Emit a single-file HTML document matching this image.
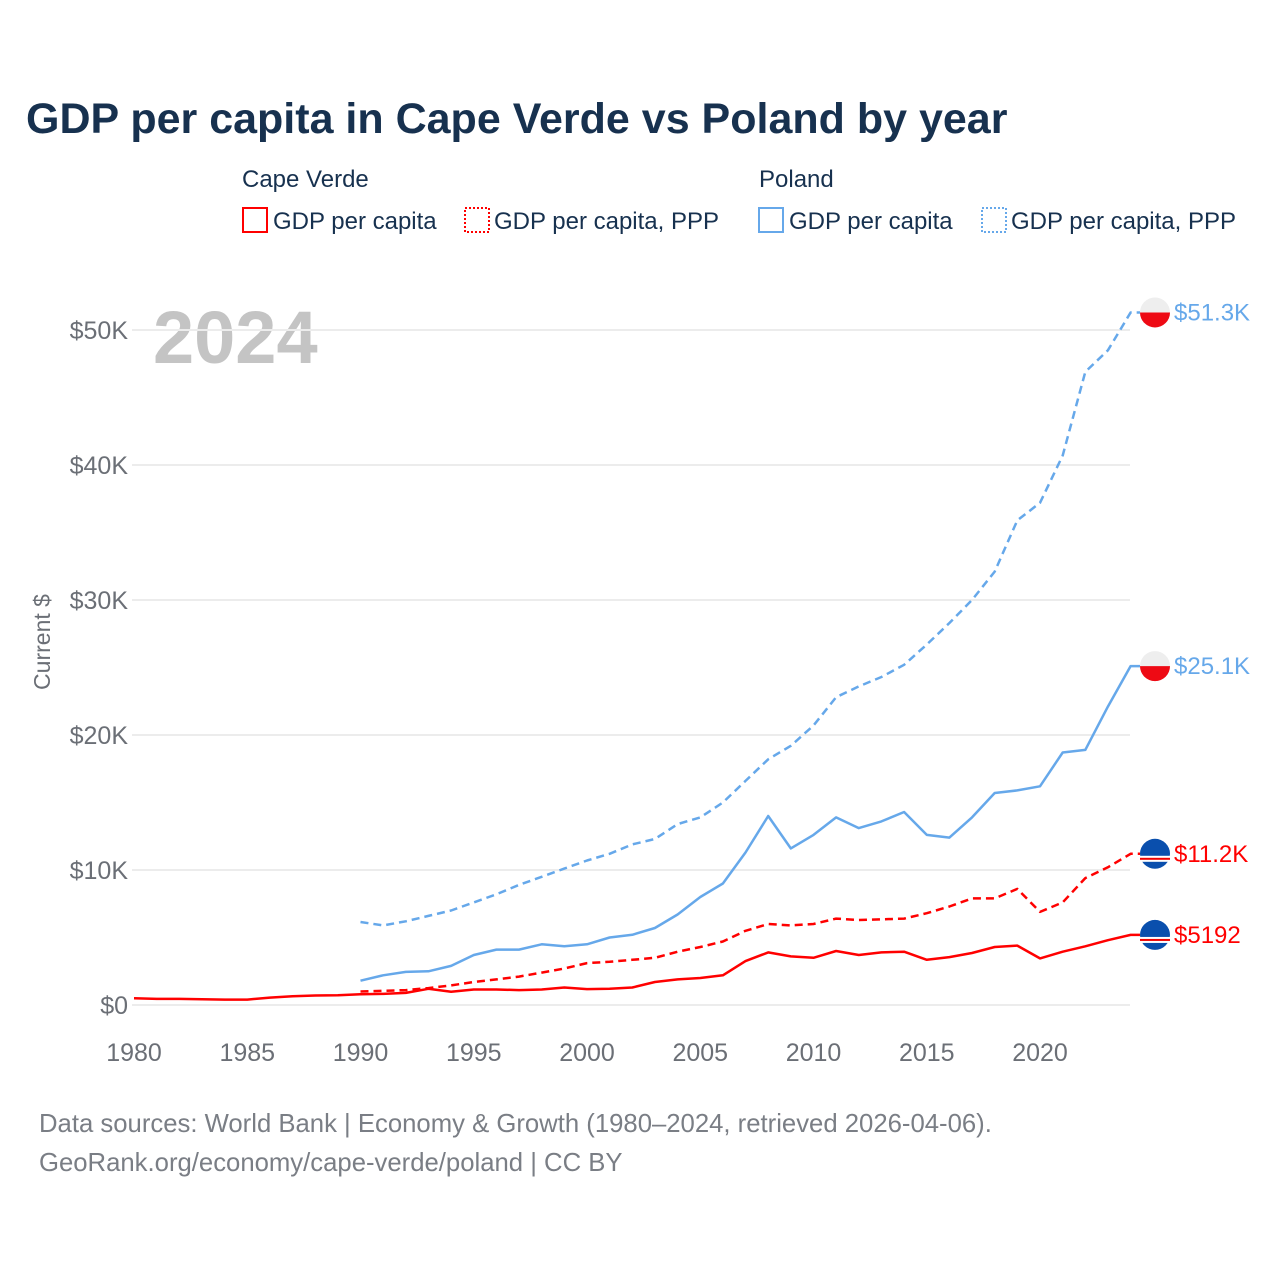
<!DOCTYPE html>
<html><head><meta charset="utf-8"><style>
body{margin:0;background:#fff;width:1280px;height:1280px;overflow:hidden;font-family:"Liberation Sans",sans-serif}
svg{position:absolute;left:0;top:0}
</style></head><body>
<svg id="chart" width="1280" height="1280" xmlns="http://www.w3.org/2000/svg">
<text x="26" y="133" font-size="43" font-weight="bold" fill="#17314f">GDP per capita in Cape Verde vs Poland by year</text>
<g font-size="24" fill="#17314f">
<text x="242" y="187">Cape Verde</text>
<rect x="243" y="208" width="24" height="24" fill="none" stroke="#ff0000" stroke-width="2"/>
<text x="273" y="229">GDP per capita</text>
<rect x="465" y="208" width="24" height="24" fill="none" stroke="#ff0000" stroke-width="2" stroke-dasharray="2,2"/>
<text x="494" y="229">GDP per capita, PPP</text>
<text x="759" y="187">Poland</text>
<rect x="759" y="208" width="24" height="24" fill="none" stroke="#66a8ea" stroke-width="2"/>
<text x="789" y="229">GDP per capita</text>
<rect x="982" y="208" width="24" height="24" fill="none" stroke="#66a8ea" stroke-width="2" stroke-dasharray="2,2"/>
<text x="1011" y="229">GDP per capita, PPP</text>
</g>
<text x="153" y="363" font-size="74" font-weight="bold" fill="#c4c4c4">2024</text>
<text transform="translate(50,642) rotate(-90)" text-anchor="middle" font-size="23" fill="#6b6f76">Current $</text>
<g id="grid"></g><g id="series"></g><g id="ends"></g>
<text x="39" y="1132" font-size="25.7" fill="#7a7e85">Data sources: World Bank | Economy &amp; Growth (1980–2024, retrieved 2026-04-06).</text>
<text x="39" y="1171" font-size="25.7" fill="#7a7e85">GeoRank.org/economy/cape-verde/poland | CC BY</text>
</svg>
<script>
const yTicks=[0,10,20,30,40,50];
const yTickLabels=["$0","$10K","$20K","$30K","$40K","$50K"];
const xTicks=[1980,1985,1990,1995,2000,2005,2010,2015,2020];
const cvYears=[1980,1981,1982,1983,1984,1985,1986,1987,1988,1989,1990,1991,1992,1993,1994,1995,1996,1997,1998,1999,2000,2001,2002,2003,2004,2005,2006,2007,2008,2009,2010,2011,2012,2013,2014,2015,2016,2017,2018,2019,2020,2021,2022,2023,2024];
const cvGdp=[0.5,0.45,0.45,0.43,0.4,0.4,0.55,0.65,0.7,0.72,0.8,0.82,0.9,1.2,0.98,1.15,1.15,1.1,1.15,1.3,1.18,1.2,1.3,1.7,1.9,2.0,2.2,3.25,3.9,3.6,3.5,4.0,3.7,3.9,3.95,3.35,3.55,3.85,4.3,4.4,3.45,3.95,4.35,4.8,5.19];
const years90=[1990,1991,1992,1993,1994,1995,1996,1997,1998,1999,2000,2001,2002,2003,2004,2005,2006,2007,2008,2009,2010,2011,2012,2013,2014,2015,2016,2017,2018,2019,2020,2021,2022,2023,2024];
const cvPpp=[1.0,1.05,1.1,1.25,1.45,1.7,1.9,2.1,2.4,2.7,3.1,3.2,3.35,3.5,3.95,4.3,4.7,5.5,6.0,5.9,6.0,6.4,6.3,6.35,6.4,6.8,7.3,7.9,7.9,8.6,6.9,7.6,9.4,10.2,11.2];
const plGdp=[1.8,2.2,2.45,2.5,2.9,3.7,4.1,4.1,4.5,4.35,4.5,5.0,5.2,5.7,6.7,8.0,9.0,11.3,14.0,11.6,12.6,13.9,13.1,13.6,14.3,12.6,12.4,13.9,15.7,15.9,16.2,18.7,18.9,22.1,25.1];
const plPpp=[6.15,5.9,6.2,6.6,7.0,7.6,8.2,8.9,9.5,10.1,10.7,11.2,11.9,12.3,13.4,13.9,15.0,16.6,18.2,19.2,20.7,22.8,23.6,24.3,25.2,26.7,28.3,30.0,32.1,35.9,37.2,40.7,46.9,48.5,51.3];
const endLabels=["$5192","$11.2K","$25.1K","$51.3K"];

const NS="http://www.w3.org/2000/svg";
const X=y=>134+(y-1980)*22.65;
const Y=v=>1005-v*13.5;
function mk(tag,attrs,parent){const e=document.createElementNS(NS,tag);for(const k in attrs)e.setAttribute(k,attrs[k]);parent.appendChild(e);return e;}
const grid=document.getElementById('grid');
yTicks.forEach((t,i)=>{
 const l=mk('line',{x1:132,x2:1130,y1:Y(t),y2:Y(t),stroke:'#ececec','stroke-width':2},grid);
 
 
 const tx=mk('text',{x:128,y:Y(t)+9,'text-anchor':'end','font-size':25,fill:'#6b6f76'},grid);
 tx.textContent=yTickLabels[i];
 
 
});
xTicks.forEach(t=>{
 const tx=mk('text',{x:X(t),y:1061,'text-anchor':'middle','font-size':25,fill:'#6b6f76'},grid);
 tx.textContent=t;
 
 
});
const series=document.getElementById('series');
const ends=document.getElementById('ends');
const defs=[
 {yrs:cvYears,v:cvGdp,c:'#ff0000',d:'',name:'cv-gdp-line',flag:'cv'},
 {yrs:years90,v:cvPpp,c:'#ff0000',d:'8,5',name:'cv-ppp-line',flag:'cv'},
 {yrs:years90,v:plGdp,c:'#66a8ea',d:'',name:'pl-gdp-line',flag:'pl'},
 {yrs:years90,v:plPpp,c:'#66a8ea',d:'8,5',name:'pl-ppp-line',flag:'pl'}];
defs.forEach((s,i)=>{
 const pts=s.yrs.map((y,j)=>X(y).toFixed(1)+','+Y(s.v[j]).toFixed(1));
 const last=s.v[s.v.length-1];
 pts.push('1140,'+Y(last).toFixed(1));
 const p=mk('polyline',{points:pts.join(' '),fill:'none',stroke:s.c,'stroke-width':2.5,'stroke-dasharray':s.d,'stroke-linejoin':'round'},series);
 
 
 const cy=Y(last);
 const g=mk('g',{},ends);
 
 
 if(s.flag==='pl'){
  mk('circle',{cx:1155,cy:cy,r:15,fill:'#eeeeee'},g);
  mk('path',{d:`M1140 ${cy} A15 15 0 0 0 1170 ${cy} Z`,fill:'#ee0a14'},g);
 }else{
  mk('circle',{cx:1155,cy:cy,r:15,fill:'#0a4fad'},g);
  mk('rect',{x:1140,y:cy+2,width:30,height:6,fill:'#fff'},g);
  mk('rect',{x:1140,y:cy+4,width:30,height:2,fill:'#e00'},g);
 }
 const t=mk('text',{x:1174,y:cy+8,'font-size':24,fill:s.c},ends);
 t.textContent=endLabels[i];
 
 
});
</script>
</body></html>
